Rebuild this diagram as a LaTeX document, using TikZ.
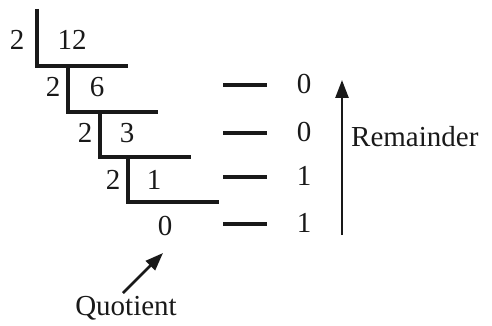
\documentclass[tikz,border=0pt]{standalone}
\usepackage{fontspec}
\setmainfont{Liberation Serif}
\usetikzlibrary{arrows.meta}
\begin{document}
\begin{tikzpicture}[x=1pt,y=-1pt,
  lbl/.style={font=\fontsize{29}{32}\selectfont, inner sep=0pt, text=black!90},
  bar/.style={line width=3.2pt, black!90},
  arr/.style={line width=2.6pt, black!90, -{Triangle[length=18pt,width=13pt]}}]
\useasboundingbox (0,0) rectangle (492,326);
% division ladder
\coordinate (v1t) at (37,9);
\coordinate (c1) at (37,66);
\coordinate (h1) at (128,66);
\coordinate (c2a) at (68,66);
\coordinate (c2) at (68,112);
\coordinate (h2) at (158,112);
\coordinate (c3a) at (100,112);
\coordinate (c3) at (100,157);
\coordinate (h3) at (191,157);
\coordinate (c4a) at (128,157);
\coordinate (c4) at (128,202);
\coordinate (h4) at (219,202);
\draw[bar] (v1t) -- (c1) -- (h1);
\draw[bar] (c2a) -- (c2) -- (h2);
\draw[bar] (c3a) -- (c3) -- (h3);
\draw[bar] (c4a) -- (c4) -- (h4);
\node[lbl] (d1) at (17,40) {2};
\node[lbl] (n1) at (72,40) {12};
\node[lbl] (d2) at (53,87) {2};
\node[lbl] (n2) at (97,87) {6};
\node[lbl] (d3) at (85,133) {2};
\node[lbl] (n3) at (127,133) {3};
\node[lbl] (d4) at (113,180) {2};
\node[lbl] (n4) at (154,180) {1};
\node[lbl] (q) at (165,226) {0};
% remainders
\foreach \y/\r/\n in {85/0/a,133/0/b,177/1/c,224/1/d}{
  \coordinate (ds\n) at (223,\y);
  \coordinate (de\n) at (267,\y);
  \draw[bar] (ds\n) -- (de\n);
  \node[lbl] (r\n) at (304,\y-1) {\r};
}
\coordinate (ab) at (342,235);
\coordinate (at) at (342,80);
\draw[arr] (ab) -- (at);
\node[lbl, anchor=west] (rem) at (351,137) {Remainder};
% quotient
\node[lbl] (quot) at (126,308) {Quotient};
\coordinate (qs) at (123,293);
\coordinate (qe) at (163,253);
\draw[arr] (qs) -- (qe);
\end{tikzpicture}
\end{document}
